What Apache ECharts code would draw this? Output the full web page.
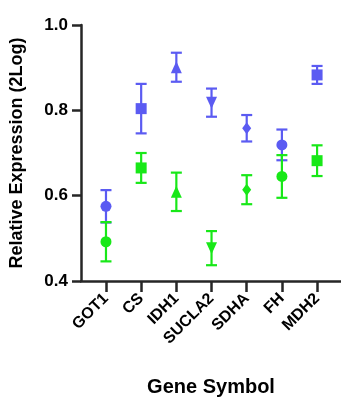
<!DOCTYPE html>
<html>
<head>
<meta charset="utf-8">
<script src="https://cdn.jsdelivr.net/npm/echarts@6/dist/echarts.min.js"></script>
<style>
  html, body { margin: 0; padding: 0; background: #fff; }
  #main { width: 341px; height: 402px; }
</style>
</head>
<body>
<div id="main"></div>
<script>
// gene symbols (x categories)
var genes = ['GOT1', 'CS', 'IDH1', 'SUCLA2', 'SDHA', 'FH', 'MDH2'];
var symbols = ['circle', 'rect', 'triangle', 'triangle', 'diamond', 'circle', 'rect'];
var rotations = [0, 0, 0, 180, 0, 0, 0];
var xTicks = [0, 1, 2, 3, 4, 5, 6];

// blue group: mean and error
var blueMean = [0.575, 0.804, 0.901, 0.818, 0.758, 0.719, 0.883];
var blueErr = [0.038, 0.058, 0.034, 0.033, 0.031, 0.036, 0.021];

// green group: mean and error
var greenMean = [0.492, 0.665, 0.609, 0.477, 0.614, 0.645, 0.682];
var greenErr = [0.046, 0.035, 0.045, 0.040, 0.034, 0.050, 0.036];

var BLUE = '#5b5bf2';
var GREEN = '#18e818';
var AXIS = '#262626';
var FONT = '"Liberation Sans", Arial, sans-serif';

function pointData(mean) {
  return mean.map(function (v, i) {
    return {
      value: [i, v],
      symbol: symbols[i],
      symbolRotate: rotations[i],
      symbolSize: symbols[i] === 'diamond' ? [9, 12] : (symbols[i] === 'triangle' ? [11, 12] : 11)
    };
  });
}

function errData(mean, err) {
  return mean.map(function (v, i) {
    return [i, v - err[i], v + err[i]];
  });
}

// error bar drawn with lines + caps
function renderErr(color) {
  return function (params, api) {
    var lo = api.coord([api.value(0), api.value(1)]);
    var hi = api.coord([api.value(0), api.value(2)]);
    var cap = 5.5;
    var style = { stroke: color, lineWidth: 2.2, fill: null };
    return {
      type: 'group',
      children: [
        { type: 'line', shape: { x1: lo[0], y1: lo[1], x2: hi[0], y2: hi[1] }, style: style },
        { type: 'line', shape: { x1: lo[0] - cap, y1: lo[1], x2: lo[0] + cap, y2: lo[1] }, style: style },
        { type: 'line', shape: { x1: hi[0] - cap, y1: hi[1], x2: hi[0] + cap, y2: hi[1] }, style: style }
      ]
    };
  };
}

var chart = echarts.init(document.getElementById('main'));
var option = {
  animation: false,
  grid: { left: 81, right: 0, top: 25, bottom: 117, containLabel: false },
  xAxis: {
    type: 'value',
    min: -0.71,
    max: 6.68,
    splitLine: { show: false },
    axisLine: { show: true, onZero: false, lineStyle: { color: AXIS, width: 2.5 } },
    axisTick: {
      show: true,
      customValues: xTicks,
      length: 11,
      lineStyle: { color: AXIS, width: 2.5 }
    },
    axisLabel: {
      customValues: xTicks,
      formatter: function (v) { return genes[Math.round(v)]; },
      rotate: 45,
      margin: 15,
      color: '#000',
      fontFamily: FONT,
      fontWeight: 'bold',
      fontSize: 16
    },
    name: 'Gene Symbol',
    nameLocation: 'middle',
    nameGap: 96,
    nameTextStyle: { color: '#000', fontFamily: FONT, fontWeight: 'bold', fontSize: 20 }
  },
  yAxis: {
    type: 'value',
    min: 0.4,
    max: 1.0,
    interval: 0.2,
    splitLine: { show: false },
    axisLine: { show: true, onZero: false, lineStyle: { color: AXIS, width: 2.5 } },
    axisTick: { show: true, length: 9, lineStyle: { color: AXIS, width: 2.5 } },
    axisLabel: {
      margin: 13,
      color: '#000',
      fontFamily: FONT,
      fontWeight: 'bold',
      fontSize: 17,
      formatter: function (v) { return v.toFixed(1); }
    },
    name: 'Relative Expression (2Log)',
    nameLocation: 'middle',
    nameGap: 55,
    nameTextStyle: { color: '#000', fontFamily: FONT, fontWeight: 'bold', fontSize: 18 }
  },
  series: [
    {
      type: 'custom',
      renderItem: renderErr(BLUE),
      data: errData(blueMean, blueErr),
      encode: { x: 0, y: [1, 2] },
      z: 2
    },
    {
      type: 'custom',
      renderItem: renderErr(GREEN),
      data: errData(greenMean, greenErr),
      encode: { x: 0, y: [1, 2] },
      z: 2
    },
    {
      type: 'scatter',
      data: pointData(blueMean),
      itemStyle: { color: BLUE, opacity: 1 },
      z: 3
    },
    {
      type: 'scatter',
      data: pointData(greenMean),
      itemStyle: { color: GREEN, opacity: 1 },
      z: 3
    }
  ]
};
chart.setOption(option);
</script>
</body>
</html>
